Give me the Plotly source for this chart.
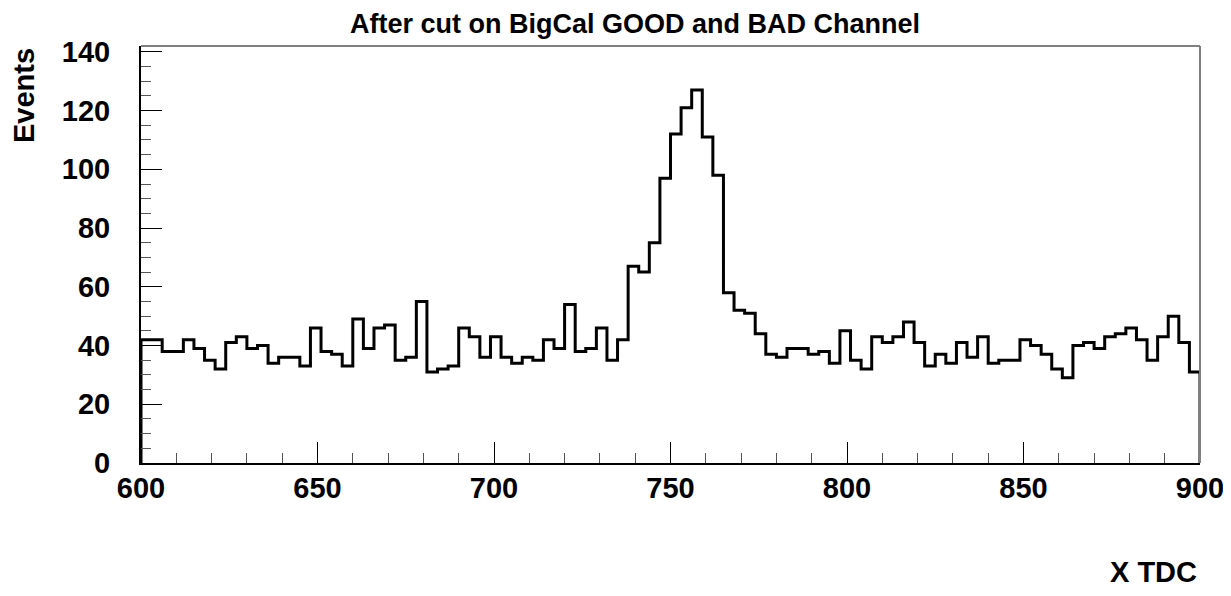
import plotly.graph_objects as go

# Histogram: 100 bins of width 3 from 600 to 900
x_low = 600
bin_width = 3
counts = [42, 42, 38, 38, 42, 39, 35, 32, 41, 43,
          39, 40, 34, 36, 36, 33, 46, 38, 37, 33,
          49, 39, 46, 47, 35, 36, 55, 31, 32, 33,
          46, 43, 36, 43, 36, 34, 36, 35, 42, 39,
          54, 38, 39, 46, 35, 42, 67, 65, 75, 97,
          112, 121, 127, 111, 98, 58, 52, 51, 44, 37,
          36, 39, 39, 37, 38, 34, 45, 35, 32, 43,
          41, 43, 48, 41, 33, 37, 34, 41, 36, 43,
          34, 35, 35, 42, 40, 37, 32, 29, 40, 41,
          39, 43, 44, 46, 42, 35, 43, 50, 41, 31]

x_ticks = [600, 650, 700, 750, 800, 850, 900]
y_ticks = [0, 20, 40, 60, 80, 100, 120, 140]

title_text = "After cut on BigCal GOOD and BAD Channel"
x_title = "X TDC"
y_title = "Events"

n = len(counts)
edges = [x_low + bin_width * i for i in range(n + 1)]
xs = [edges[0]] + edges[:n] + [edges[n], edges[n]]
ys = [0] + counts + [counts[-1], 0]

FONT = "Liberation Sans, Arial, Helvetica, sans-serif"

# page body has an 8px margin; plot area should sit at page x 141..1200, y 46..463
PL, PT, PW, PH = 141, 46, 1059, 417

fig = go.Figure()
fig.add_trace(go.Scatter(x=xs, y=ys, mode="lines", line=dict(color="black", width=3, shape="hv"),
                         hoverinfo="skip", showlegend=False))

fig.update_layout(
    width=1215, height=580,
    margin=dict(l=PL - 8, r=1223 - (PL + PW), t=PT - 8, b=588 - (PT + PH), autoexpand=False),
    paper_bgcolor="white", plot_bgcolor="white",
    showlegend=False,
    font=dict(family=FONT, color="black"),
)

fig.update_xaxes(
    range=[600, 900], tickvals=x_ticks, ticktext=[str(v) for v in x_ticks],
    ticks="inside", ticklen=21, tickwidth=1, tickcolor="black",
    minor=dict(ticks="inside", dtick=10, ticklen=10, tickwidth=1, tickcolor="#555555", showgrid=False),
    showline=True, linecolor="black", linewidth=2,
    showgrid=False, zeroline=False,
    tickfont=dict(family=FONT, size=29, color="black", weight="bold"),
    ticklabelstandoff=-2,
    ticklabeloverflow="allow",
    automargin=False,
)
fig.update_yaxes(
    range=[0, 142], tickvals=y_ticks, ticktext=[str(v) for v in y_ticks],
    ticks="inside", ticklen=21, tickwidth=1, tickcolor="black",
    minor=dict(ticks="inside", dtick=5, ticklen=10, tickwidth=1, tickcolor="#555555", showgrid=False),
    showline=True, linecolor="black", linewidth=2,
    showgrid=False, zeroline=False,
    tickfont=dict(family=FONT, size=29, color="black", weight="bold"),
    ticklabelstandoff=23,
    ticklabeloverflow="allow",
    automargin=False,
)

# grey frame top and right
fig.add_shape(type="line", xref="paper", yref="paper", x0=0, x1=1, y0=1, y1=1,
              line=dict(color="#808080", width=2))
fig.add_shape(type="line", xref="paper", yref="paper", x0=1, x1=1, y0=0, y1=1,
              line=dict(color="#808080", width=2))

def px_x(p):
    return (p - PL) / PW

def px_y(p):
    return (PT + PH - p) / PH

fig.add_annotation(text=title_text, xref="paper", yref="paper",
                   x=px_x(635), y=px_y(24), xanchor="center", yanchor="middle",
                   showarrow=False, font=dict(family=FONT, size=27, color="black", weight="bold"))
fig.add_annotation(text=x_title, xref="paper", yref="paper",
                   x=px_x(1198), y=px_y(572), xanchor="right", yanchor="middle", borderpad=0,
                   showarrow=False, font=dict(family=FONT, size=29, color="black", weight="bold"))
fig.add_annotation(text=y_title, xref="paper", yref="paper",
                   x=px_x(24), y=px_y(96), xanchor="center", yanchor="middle",
                   textangle=-90,
                   showarrow=False, font=dict(family=FONT, size=29, color="black", weight="bold"))

fig.write_html("out.html")
